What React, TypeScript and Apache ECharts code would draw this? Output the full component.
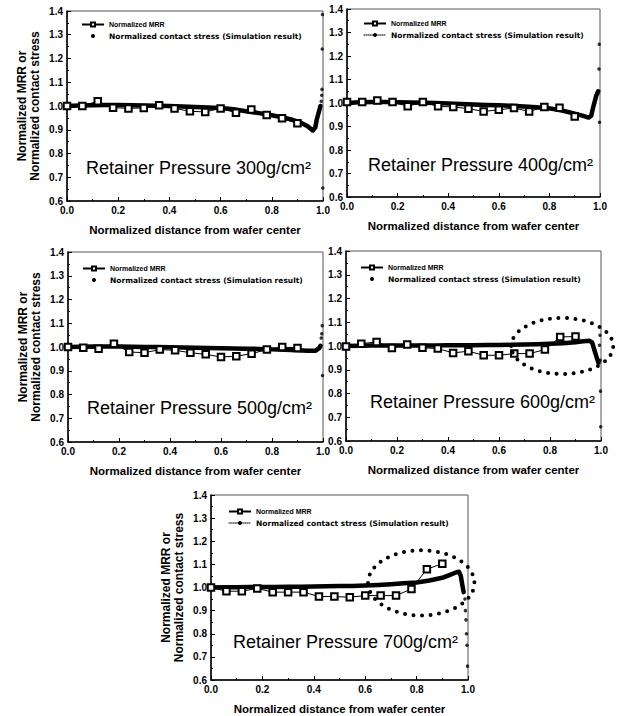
import React, { useEffect, useRef } from 'react';
import * as echarts from 'echarts';

// ---------- data ----------
const pressureLabels = ['300', '400', '500', '600', '700'];
const xTicks = [0, 0.2, 0.4, 0.6, 0.8, 1.0];
const yTicks = [0.6, 0.7, 0.8, 0.9, 1.0, 1.1, 1.2, 1.3, 1.4];

const mrrX = [0, 0.06, 0.12, 0.18, 0.24, 0.3, 0.36, 0.42, 0.48, 0.54, 0.6, 0.66, 0.72, 0.78, 0.84, 0.9];
const mrr300 = [1.0, 1.0, 1.02, 0.993, 0.99, 0.992, 1.003, 0.99, 0.978, 0.975, 0.99, 0.972, 0.985, 0.962, 0.948, 0.927];
const mrr400 = [1.004, 1.004, 1.011, 1.004, 0.986, 1.004, 0.986, 0.983, 0.976, 0.964, 0.971, 0.979, 0.964, 0.983, 0.98, 0.943];
const mrr500 = [1.0, 0.997, 0.993, 1.014, 0.979, 0.976, 0.989, 0.986, 0.976, 0.969, 0.958, 0.961, 0.972, 0.989, 1.0, 0.996];
const mrr600 = [0.998, 1.01, 1.017, 0.992, 1.006, 0.993, 0.989, 0.971, 0.978, 0.961, 0.961, 0.968, 0.968, 0.985, 1.038, 1.04];
const mrr700 = [1.0, 0.984, 0.984, 0.996, 0.98, 0.98, 0.98, 0.961, 0.961, 0.958, 0.965, 0.965, 0.965, 0.994, 1.079, 1.103];

const stress300 = [[0, 1.0], [0.05, 1.002], [0.1, 1.003], [0.15, 1.004], [0.2, 1.004], [0.25, 1.003], [0.3, 1.002], [0.35, 1.001], [0.4, 1.0], [0.45, 0.998], [0.5, 0.996], [0.55, 0.994], [0.6, 0.992], [0.65, 0.986], [0.7, 0.978], [0.75, 0.97], [0.8, 0.961], [0.85, 0.95], [0.88, 0.942], [0.91, 0.932], [0.94, 0.915], [0.96, 0.897], [0.97, 0.91], [0.975, 0.94], [0.985, 0.98], [0.99, 1.0]];
const stressEdge300 = [[0.993, 1.02], [0.995, 1.045], [0.996, 1.07], [0.997, 1.24], [0.998, 1.385], [0.999, 0.655]];

const stress400 = [[0, 1.0], [0.05, 1.003], [0.1, 1.004], [0.15, 1.004], [0.2, 1.003], [0.25, 1.002], [0.3, 1.001], [0.35, 1.0], [0.4, 0.998], [0.45, 0.996], [0.5, 0.994], [0.55, 0.992], [0.6, 0.99], [0.65, 0.988], [0.7, 0.985], [0.75, 0.982], [0.8, 0.977], [0.85, 0.968], [0.9, 0.955], [0.93, 0.946], [0.955, 0.938], [0.965, 0.945], [0.975, 0.99], [0.985, 1.03], [0.993, 1.05]];
const stressEdge400 = [[0.996, 1.145], [0.997, 1.25], [0.998, 0.918]];

const stress500 = [[0, 1.0], [0.05, 1.001], [0.1, 1.002], [0.15, 1.002], [0.2, 1.002], [0.25, 1.001], [0.3, 1.0], [0.35, 1.0], [0.4, 0.999], [0.45, 0.998], [0.5, 0.997], [0.55, 0.996], [0.6, 0.995], [0.65, 0.994], [0.7, 0.993], [0.75, 0.992], [0.8, 0.99], [0.85, 0.988], [0.9, 0.986], [0.94, 0.984], [0.97, 0.984], [0.985, 0.995], [0.99, 1.005]];
const stressEdge500 = [[0.993, 1.038], [0.995, 1.056], [0.997, 1.09], [0.998, 0.88]];

const stress600 = [[0, 1.0], [0.05, 1.001], [0.1, 1.002], [0.15, 1.002], [0.2, 1.002], [0.25, 1.002], [0.3, 1.002], [0.35, 1.002], [0.4, 1.003], [0.45, 1.003], [0.5, 1.003], [0.55, 1.004], [0.6, 1.004], [0.65, 1.005], [0.7, 1.006], [0.75, 1.007], [0.8, 1.009], [0.85, 1.012], [0.9, 1.016], [0.93, 1.02], [0.955, 1.022], [0.965, 1.015], [0.975, 0.98], [0.985, 0.945], [0.99, 0.93]];
const stressEdge600 = [[0.994, 1.003], [0.996, 1.045], [0.997, 0.94], [0.998, 0.81], [0.999, 0.66]];

const stress700 = [[0, 1.0], [0.05, 1.001], [0.1, 1.001], [0.15, 1.002], [0.2, 1.002], [0.25, 1.002], [0.3, 1.003], [0.35, 1.003], [0.4, 1.004], [0.45, 1.005], [0.5, 1.006], [0.55, 1.007], [0.6, 1.009], [0.65, 1.011], [0.7, 1.014], [0.75, 1.018], [0.8, 1.022], [0.85, 1.03], [0.9, 1.042], [0.93, 1.055], [0.955, 1.066], [0.965, 1.068], [0.972, 1.05], [0.978, 1.01], [0.983, 0.98]];
const stressEdge700 = [[0.988, 0.95], [0.99, 0.9], [0.992, 0.86], [0.994, 0.8], [0.996, 0.75], [0.998, 0.66]];

const mrrSets = [mrr300, mrr400, mrr500, mrr600, mrr700];
const stressSets = [stress300, stress400, stress500, stress600, stress700];
const stressEdgeSets = [stressEdge300, stressEdge400, stressEdge500, stressEdge600, stressEdge700];

const MRR_NAME = 'Normalized MRR';
const STRESS_NAME = 'Normalized contact stress (Simulation result)';

// ---------- layout ----------
const PANELS = [
  { left: 67, top: 11, width: 256, height: 190, yName: true, lgLeft: 81, lgTop: 21, dotted: false, tx: 86, ty: 168 },
  { left: 347, top: 9, width: 253, height: 188, yName: false, lgLeft: 363, lgTop: 20, dotted: true, tx: 368, ty: 165 },
  { left: 68, top: 252, width: 255, height: 190, yName: true, lgLeft: 82, lgTop: 265, dotted: false, tx: 87, ty: 408 },
  { left: 346, top: 251, width: 255, height: 190, yName: false, lgLeft: 360, lgTop: 264, dotted: false, tx: 370, ty: 402 },
  { left: 211, top: 495, width: 257, height: 187, yName: true, lgLeft: 228, lgTop: 508, dotted: true, tx: 233, ty: 642 },
];
// dotted ellipses (annotation), in data units: [panel, cx, cy, rx, ry]
const ELLIPSES = [
  [3, 0.848, 1.0, 0.2, 0.118],
  [4, 0.818, 1.02, 0.207, 0.141],
];

const FONT = "'Liberation Sans', Arial, sans-serif";

export default function App() {
  const ref = useRef<HTMLDivElement>(null);
  useEffect(() => {
    if (!ref.current) return;
    const chart = echarts.init(ref.current, null, { renderer: 'svg' });
    const grid: any[] = [];
    const xAxis: any[] = [];
    const yAxis: any[] = [];
    const series: any[] = [];
    const legend: any[] = [];
    PANELS.forEach((p, i) => {
      grid.push({ left: p.left, top: p.top, width: p.width, height: p.height, show: true, borderColor: '#555', borderWidth: 1 });
      xAxis.push({
        gridIndex: i, type: 'value', min: xTicks[0], max: xTicks[xTicks.length - 1], interval: 0.2,
        name: 'Normalized distance from wafer center', nameLocation: 'middle', nameGap: 23,
        nameTextStyle: { fontFamily: FONT, fontWeight: 'bold', fontSize: 11.5, color: '#000' },
        axisLine: { lineStyle: { color: '#000', width: 1.5 } },
        axisTick: { inside: true, length: 4, lineStyle: { color: '#000', width: 1 } },
        minorTick: { show: true, splitNumber: 2, length: 2, lineStyle: { color: '#000' } },
        splitLine: { show: false },
        axisLabel: { fontFamily: FONT, fontWeight: 'bold', fontSize: 10, color: '#000', margin: 4, formatter: (v: number) => v.toFixed(1) },
      });
      yAxis.push({
        gridIndex: i, type: 'value', min: yTicks[0], max: yTicks[yTicks.length - 1], interval: 0.1,
        name: p.yName ? 'Normalized MRR or\nNormalized contact stress' : '',
        nameLocation: 'middle', nameGap: 25, nameRotate: 90,
        nameTextStyle: { fontFamily: FONT, fontWeight: 'bold', fontSize: 12, lineHeight: 13.5, color: '#000' },
        axisLine: { show: true, lineStyle: { color: '#000', width: 1.5 } },
        axisTick: { show: true, inside: true, length: 4, lineStyle: { color: '#000', width: 1 } },
        minorTick: { show: true, splitNumber: 2, length: 2, lineStyle: { color: '#000' } },
        splitLine: { show: false },
        axisLabel: { fontFamily: FONT, fontWeight: 'bold', fontSize: 10, color: '#000', margin: 4, formatter: (v: number) => v.toFixed(1) },
      });
      series.push({
        name: STRESS_NAME, type: 'line', xAxisIndex: i, yAxisIndex: i, data: stressSets[i],
        symbol: 'none', color: '#000', z: 2,
        lineStyle: { color: '#000', width: 4.5, cap: 'round', join: 'round' },
      });
      series.push({
        name: STRESS_NAME, type: 'scatter', xAxisIndex: i, yAxisIndex: i, data: stressEdgeSets[i],
        symbol: 'circle', symbolSize: 3.5, itemStyle: { color: '#000' }, z: 2,
      });
      series.push({
        name: MRR_NAME, type: 'line', xAxisIndex: i, yAxisIndex: i,
        data: mrrX.map((x, k) => [x, mrrSets[i][k]]),
        symbol: 'emptyRect', symbolSize: 6.5, color: '#000', z: 3,
        lineStyle: { color: '#000', width: 1 },
        itemStyle: { color: '#000', borderColor: '#000', borderWidth: 1.3 },
      });
      legend.push({
        left: p.lgLeft, top: p.lgTop, orient: 'vertical', itemWidth: 22, itemHeight: 5, itemGap: 4,
        padding: 0, selectedMode: false,
        data: [
          { name: MRR_NAME, textStyle: { fontFamily: FONT, fontWeight: 'bold', fontSize: 7, color: '#000' } },
          {
            name: STRESS_NAME,
            lineStyle: p.dotted ? { type: 'dotted', width: 1, color: '#000' } : { opacity: 0 },
            textStyle: { fontFamily: "'DejaVu Sans', sans-serif", fontWeight: 'bold', fontSize: 7.5, color: '#000' },
          },
        ],
      });
    });
    chart.setOption({
      animation: false,
      backgroundColor: '#fff',
      grid, xAxis, yAxis, series, legend,
    });
    const graphic: any[] = [];
    PANELS.forEach((p, i) => {
      graphic.push({
        type: 'text', x: p.tx, y: p.ty, silent: true,
        style: {
          text: `Retainer Pressure ${pressureLabels[i]}g/cm²`,
          font: `18px ${FONT}`, fill: '#000', textVerticalAlign: 'middle', textAlign: 'left',
        },
      });
    });
    ELLIPSES.forEach(([pi, cx, cy, rx, ry]) => {
      const c = chart.convertToPixel({ gridIndex: pi }, [cx, cy]) as number[];
      const e = chart.convertToPixel({ gridIndex: pi }, [cx + rx, cy + ry]) as number[];
      graphic.push({
        type: 'ellipse', silent: true, z: 10,
        shape: { cx: c[0], cy: c[1], rx: Math.abs(e[0] - c[0]), ry: Math.abs(c[1] - e[1]) },
        style: { fill: 'none', stroke: '#000', lineWidth: 4, lineDash: [0, 8.5], lineCap: 'round' },
      });
    });
    chart.setOption({ graphic });
    return () => chart.dispose();
  }, []);
  return <div ref={ref} style={{ position: 'absolute', left: 0, top: 0, width: 621, height: 716, background: '#fff' }} />;
}
